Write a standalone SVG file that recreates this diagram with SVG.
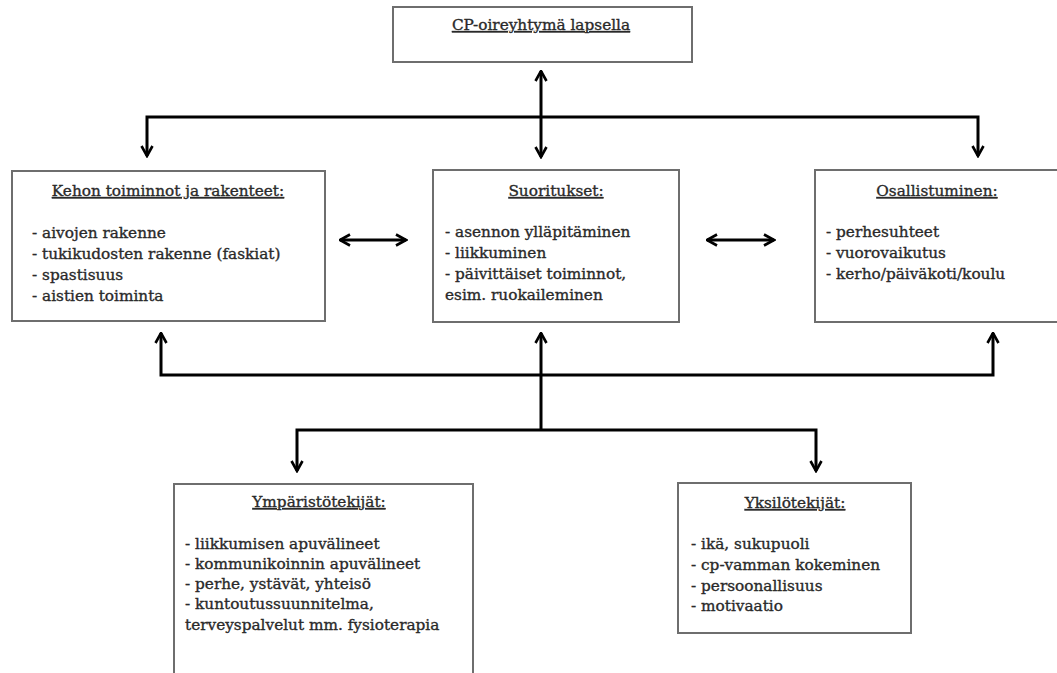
<svg xmlns="http://www.w3.org/2000/svg" width="1057" height="673" viewBox="0 0 1057 673">
<style>
.box{fill:#fff;stroke:#6e6e6e;stroke-width:2}
.t{font-family:"DejaVu Serif","Liberation Serif",serif;font-size:15.3px;fill:#2a2a2a;stroke:#2a2a2a;stroke-width:0.35px}
.h{text-decoration:underline;text-anchor:middle}
.c{fill:none;stroke:#000;stroke-width:3;stroke-linejoin:miter}
</style>
<defs>
<marker id="a" viewBox="0 0 14 14" refX="12.5" refY="7" markerWidth="14" markerHeight="14" markerUnits="userSpaceOnUse" orient="auto-start-reverse">
<path d="M2.5,1.5 L12.5,7 L2.5,12.5" fill="none" stroke="#000" stroke-width="2.6"/>
</marker>
</defs>
<rect width="1057" height="673" fill="#fff"/>
<g id="connectors">
<path class="c" d="M147,156 V117 H978 V156" marker-start="url(#a)" marker-end="url(#a)"/>
<path class="c" d="M541,71 V157" marker-start="url(#a)" marker-end="url(#a)"/>
<path class="c" d="M340,240 H406" marker-start="url(#a)" marker-end="url(#a)"/>
<path class="c" d="M707,240 H774" marker-start="url(#a)" marker-end="url(#a)"/>
<path class="c" d="M161,333 V375 H993 V333" marker-start="url(#a)" marker-end="url(#a)"/>
<path class="c" d="M541,333 V430" marker-start="url(#a)"/>
<path class="c" d="M297,471 V430 H816 V471" marker-start="url(#a)" marker-end="url(#a)"/>
</g>
<g id="top">
<rect class="box" x="393" y="7" width="299" height="55"/>
<text class="t h" x="541" y="30">CP-oireyhtymä lapsella</text>
</g>
<g id="kehon">
<rect class="box" x="12" y="171" width="313" height="150"/>
<text class="t h" x="168" y="196">Kehon toiminnot ja rakenteet:</text>
<text class="t" x="32" y="238">- aivojen rakenne</text>
<text class="t" x="32" y="259">- tukikudosten rakenne (faskiat)</text>
<text class="t" x="32" y="280">- spastisuus</text>
<text class="t" x="32" y="301">- aistien toiminta</text>
</g>
<g id="suoritukset">
<rect class="box" x="433" y="170" width="246" height="152"/>
<text class="t h" x="556" y="196">Suoritukset:</text>
<text class="t" x="445" y="237">- asennon ylläpitäminen</text>
<text class="t" x="445" y="258">- liikkuminen</text>
<text class="t" x="445" y="279">- päivittäiset toiminnot,</text>
<text class="t" x="445" y="300">esim. ruokaileminen</text>
</g>
<g id="osallistuminen">
<rect class="box" x="815" y="170" width="250" height="152"/>
<text class="t h" x="937" y="196">Osallistuminen:</text>
<text class="t" x="826" y="237">- perhesuhteet</text>
<text class="t" x="826" y="258">- vuorovaikutus</text>
<text class="t" x="826" y="279">- kerho/päiväkoti/koulu</text>
</g>
<g id="ymparisto">
<rect class="box" x="174" y="484" width="299" height="200"/>
<text class="t h" x="319" y="507">Ympäristötekijät:</text>
<text class="t" x="185" y="549">- liikkumisen apuvälineet</text>
<text class="t" x="185" y="569">- kommunikoinnin apuvälineet</text>
<text class="t" x="185" y="589">- perhe, ystävät, yhteisö</text>
<text class="t" x="185" y="609">- kuntoutussuunnitelma,</text>
<text class="t" x="185" y="630">terveyspalvelut mm. fysioterapia</text>
</g>
<g id="yksilo">
<rect class="box" x="678" y="483" width="233" height="150"/>
<text class="t h" x="795" y="508">Yksilötekijät:</text>
<text class="t" x="691" y="549">- ikä, sukupuoli</text>
<text class="t" x="691" y="570">- cp-vamman kokeminen</text>
<text class="t" x="691" y="591">- persoonallisuus</text>
<text class="t" x="691" y="611">- motivaatio</text>
</g>
</svg>
